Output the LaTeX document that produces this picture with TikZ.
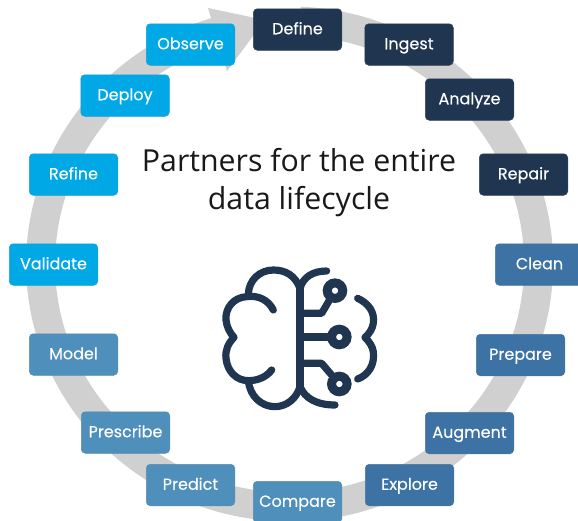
\documentclass[tikz,border=0pt]{standalone}
\usepackage{fontspec}
\setmainfont{Open Sans}
\newfontfamily\boxfont[FakeBold=0.25]{Poppins}
\definecolor{navy}{HTML}{1F3550}
\definecolor{sky}{HTML}{00A8E6}
\definecolor{midblue}{HTML}{3C72A4}
\definecolor{softblue}{HTML}{4F8FBB}
\definecolor{ringgray}{HTML}{D0D0D0}
\tikzset{
  stagebox/.style={draw=#1!80!gray,line width=.5pt,fill=#1,rounded corners=4pt,minimum width=88.5pt,minimum height=41.5pt,inner sep=0pt,text=white,font=\boxfont\fontsize{16}{19}\selectfont,anchor=north west,text height=12pt,text depth=2.5pt},
  brainline/.style={draw=navy,line width=7.2pt,line cap=round,line join=round},
  brainpad/.style={draw=navy,line width=9pt,fill=none,circle,minimum size=15.5pt,inner sep=0pt},
}
\begin{document}
\begin{tikzpicture}[x=1pt,y=-1pt]
\useasboundingbox (0,0) rectangle (578,520);
\clip (0,0) rectangle (578,520);
% ring
\draw[ringgray,line width=29pt] (300,21.2) arc[start angle=-87.6,end angle=253,x radius=249,y radius=243];
\path[fill=ringgray] (208,8) -- (265,20) -- (227,71) -- cycle;
% boxes
\node[stagebox=navy] (define) at (253,8.5) {Define};
\node[stagebox=navy] (ingest) at (364.5,23.5) {Ingest};
\node[stagebox=navy] (analyze) at (425,78.5) {Analyze};
\node[stagebox=navy] (repair) at (479,153.5) {Repair};
\node[stagebox=midblue] (clean) at (495,243.5) {Clean};
\node[stagebox=midblue] (prepare) at (476,334) {Prepare};
\node[stagebox=midblue] (augment) at (425,412) {Augment};
\node[stagebox=midblue] (explore) at (365,464) {Explore};
\node[stagebox=softblue] (compare) at (253,481) {Compare};
\node[stagebox=softblue] (predict) at (146,464) {Predict};
\node[stagebox=softblue] (prescribe) at (81,411.5) {Prescribe};
\node[stagebox=softblue] (model) at (29,333.5) {Model};
\node[stagebox=sky] (validate) at (9,243.5) {Validate};
\node[stagebox=sky] (refine) at (29,153.5) {Refine};
\node[stagebox=sky] (deploy) at (80.5,74.5) {Deploy};
\node[stagebox=sky] (observe) at (146,23.5) {Observe};
% title
\node[font=\fontsize{30.3}{38}\selectfont,align=center,text=black!90,inner sep=0pt] (title) at (299,183) {Partners for the entire\\data lifecycle};
% brain
\begin{scope}[shift={(210,260)},x=.3333pt,y=-.3333pt]
\draw[brainline] (270,75) -- (270,385);
\draw[brainline] (270,85) .. controls (255,45) and (225,30) .. (190,30) .. controls (150,30) and (115,60) .. (115,105);
\draw[brainline] (190,150) .. controls (175,120) and (145,105) .. (110,110) .. controls (70,112) and (45,145) .. (48,180) .. controls (50,200) and (60,220) .. (72,232) .. controls (55,250) and (45,270) .. (48,295) .. controls (52,335) and (80,362) .. (115,362) .. controls (145,362) and (170,350) .. (185,330);
\draw[brainline] (115,362) .. controls (120,410) and (155,440) .. (195,440) .. controls (230,440) and (260,415) .. (270,380);
\draw[brainline] (350,33) .. controls (310,33) and (280,50) .. (270,85);
\draw[brainline] (375,435) .. controls (320,435) and (285,415) .. (270,380);
\draw[brainline] (443,115) .. controls (475,130) and (495,155) .. (490,190) .. controls (488,205) and (478,222) .. (465,232) .. controls (478,245) and (488,260) .. (490,275) .. controls (495,315) and (475,345) .. (443,357);
\node[brainpad] (pada) at (375,92) {};
\node[brainpad] (padb) at (388,231) {};
\node[brainpad] (padc) at (388,372) {};
\draw[brainline] (272,160) -- (335,160) -- (pada);
\draw[brainline] (272,231) -- (padb);
\draw[brainline] (272,310) -- (335,310) -- (padc);
\end{scope}
\end{tikzpicture}
\end{document}
